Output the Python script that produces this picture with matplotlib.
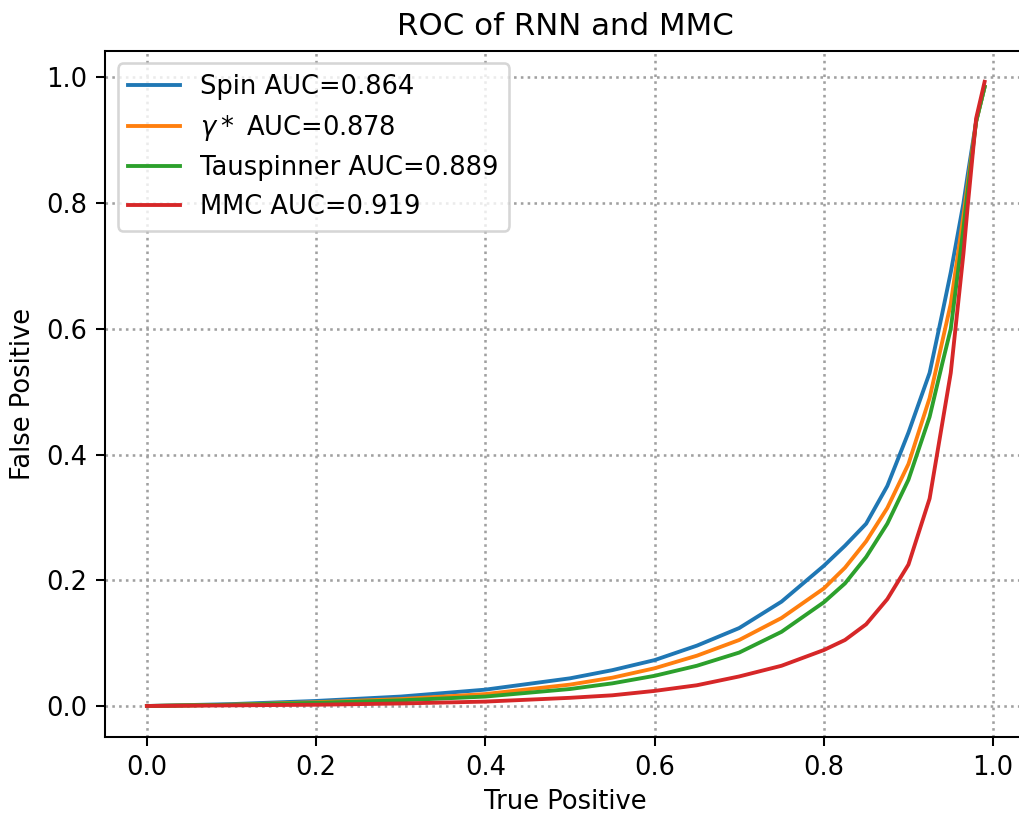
import numpy as np
import matplotlib
matplotlib.use("Agg")
import matplotlib.pyplot as plt

# True positive rate grid (shared by all curves)
tpr = [0.0, 0.1, 0.2, 0.3, 0.4, 0.5, 0.55, 0.6, 0.65, 0.7, 0.75, 0.8, 0.825,
       0.85, 0.875, 0.9, 0.925, 0.94, 0.95, 0.965, 0.97, 0.98, 0.99]

# False positive values
fp_spin = [0.0, 0.003, 0.008, 0.015, 0.026, 0.044, 0.057, 0.073, 0.096, 0.124,
           0.166, 0.223, 0.255, 0.29, 0.35, 0.435, 0.53, 0.625, 0.69, 0.80,
           0.845, 0.93, 0.985]
fp_gamma = [0.0, 0.002, 0.006, 0.011, 0.019, 0.034, 0.045, 0.060, 0.080, 0.105,
            0.14, 0.187, 0.22, 0.262, 0.315, 0.385, 0.49, 0.58, 0.64, 0.78,
            0.83, 0.93, 0.985]
fp_taus = [0.0, 0.002, 0.005, 0.009, 0.015, 0.027, 0.036, 0.048, 0.064, 0.085,
           0.118, 0.165, 0.195, 0.237, 0.29, 0.36, 0.46, 0.545, 0.60, 0.76,
           0.82, 0.93, 0.985]
fp_mmc = [0.0, 0.001, 0.002, 0.004, 0.007, 0.013, 0.017, 0.024, 0.033, 0.047,
          0.064, 0.089, 0.105, 0.13, 0.17, 0.225, 0.33, 0.45, 0.53, 0.72,
          0.795, 0.935, 0.993]

labels = ["Spin AUC=0.864", r"$\gamma*$ AUC=0.878",
          "Tauspinner AUC=0.889", "MMC AUC=0.919"]

dpi = 185
fig = plt.figure(figsize=(1020 / dpi, 814 / dpi), dpi=dpi)
# axes box runs a little past the right edge, as in the reference
ax = fig.add_axes([105 / 1020, 76.8 / 814, 921.5 / 1020, 686.6 / 814])

for fp, lab in zip([fp_spin, fp_gamma, fp_taus, fp_mmc], labels):
    ax.plot(tpr, fp, linewidth=1.5, label=lab)

ax.set_title("ROC of RNN and MMC", fontsize=12)
ax.set_xlabel("True Positive", labelpad=3)
ax.set_ylabel("False Positive")
ax.set_xticks([0.0, 0.2, 0.4, 0.6, 0.8, 1.0])
ax.set_yticks([0.0, 0.2, 0.4, 0.6, 0.8, 1.0])
ax.grid(True, linestyle=':', color='#a0a0a0', linewidth=1.0)
ax.legend(loc='upper left', fontsize=10.0)

fig.savefig("out.png", dpi=dpi)
